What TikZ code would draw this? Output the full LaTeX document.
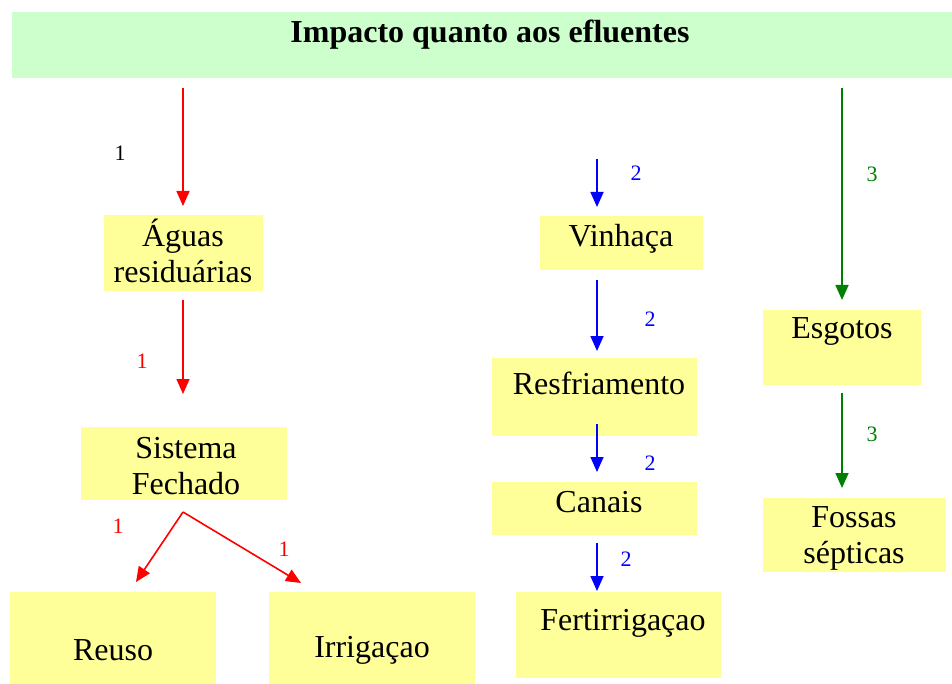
\documentclass[tikz,border=0pt]{standalone}
\usepackage{fontspec}
\setmainfont{Liberation Serif}
\usetikzlibrary{arrows.meta}
\definecolor{boxyellow}{HTML}{FFFF99}
\definecolor{titlegreen}{HTML}{CCFFCC}
\definecolor{arrred}{HTML}{FF0000}
\definecolor{arrblue}{HTML}{0000FF}
\definecolor{arrgreen}{HTML}{008000}
\tikzset{
  box/.style={fill=boxyellow, draw=none, inner sep=0pt, anchor=north west},
  lbl/.style={font=\fontsize{32}{36}\selectfont, align=center, inner sep=0pt, text=black},
  num/.style={font=\fontsize{22}{24}\selectfont, inner sep=0pt},
  flow/.style={line width=1.6pt, -{Triangle[length=15pt,width=13pt]}},
}
\begin{document}
\begin{tikzpicture}[x=1pt,y=-1pt]
\useasboundingbox (0,0) rectangle (952,684);
% title
\node[fill=titlegreen, inner sep=0pt, anchor=north west, minimum width=940pt, minimum height=66pt] (title) at (12,12) {};
\node[font=\fontsize{32}{36}\selectfont\bfseries, inner sep=0pt] (titletext) at (490,35) {Impacto quanto aos efluentes};
% boxes
\node[box, minimum width=159pt, minimum height=76pt] (aguas) at (104,215) {};
\node[lbl] (aguast) at (183,251) {Águas\\residuárias};
\node[box, minimum width=206pt, minimum height=73pt] (sist) at (81,427) {};
\node[lbl] (sistt) at (186,466) {Sistema\\Fechado};
\node[box, minimum width=206pt, minimum height=92pt] (reuso) at (10,592) {};
\node[lbl] (reusot) at (113,650) {Reuso};
\node[box, minimum width=206pt, minimum height=92pt] (irrig) at (269,592) {};
\node[lbl] (irrigt) at (372,650) {Irrigaçao};
\node[box, minimum width=163pt, minimum height=54pt] (vinh) at (540,216) {};
\node[lbl] (vinht) at (621,239) {Vinhaça};
\node[box, minimum width=205pt, minimum height=78pt] (resf) at (492,358) {};
\node[lbl] (resft) at (599,383) {Resfriamento};
\node[box, minimum width=205pt, minimum height=53pt] (canais) at (492,482) {};
\node[lbl] (canaist) at (599,502) {Canais};
\node[box, minimum width=205pt, minimum height=86pt] (fert) at (516,592) {};
\node[lbl] (fertt) at (623,623) {Fertirrigaçao};
\node[box, minimum width=158pt, minimum height=75pt] (esg) at (763,310) {};
\node[lbl] (esgt) at (842,331) {Esgotos};
\node[box, minimum width=183pt, minimum height=74pt] (fossas) at (763,498) {};
\node[lbl] (fossast) at (854,538) {Fossas\\sépticas};
% arrow endpoints
\coordinate (r1a) at (183,88);  \coordinate (r1b) at (183,206);
\coordinate (r2a) at (183,300); \coordinate (r2b) at (183,394);
\coordinate (apex) at (183,512);
\coordinate (r3b) at (136,582); \coordinate (r4b) at (301,583);
\coordinate (b1a) at (597,159); \coordinate (b1b) at (597,207);
\coordinate (b2a) at (597,280); \coordinate (b2b) at (597,351);
\coordinate (b3a) at (597,424); \coordinate (b3b) at (597,472);
\coordinate (b4a) at (597,543); \coordinate (b4b) at (597,591);
\coordinate (g1a) at (842,88);  \coordinate (g1b) at (842,300);
\coordinate (g2a) at (842,393); \coordinate (g2b) at (842,488);
% red arrows
\draw[flow, arrred] (r1a) -- (r1b);
\draw[flow, arrred] (r2a) -- (r2b);
\draw[flow, arrred] (apex) -- (r3b);
\draw[flow, arrred] (apex) -- (r4b);
\node[num, text=black] (n1) at (120,153) {1};
\node[num, text=arrred] (n2) at (142,361) {1};
\node[num, text=arrred] (n3) at (118,526) {1};
\node[num, text=arrred] (n4) at (284,549) {1};
% blue arrows
\draw[flow, arrblue] (b1a) -- (b1b);
\draw[flow, arrblue] (b2a) -- (b2b);
\draw[flow, arrblue] (b3a) -- (b3b);
\draw[flow, arrblue] (b4a) -- (b4b);
\node[num, text=arrblue] (n5) at (636,173) {2};
\node[num, text=arrblue] (n6) at (650,319) {2};
\node[num, text=arrblue] (n7) at (650,463) {2};
\node[num, text=arrblue] (n8) at (626,559) {2};
% green arrows
\draw[flow, arrgreen] (g1a) -- (g1b);
\draw[flow, arrgreen] (g2a) -- (g2b);
\node[num, text=arrgreen] (n9) at (872,174) {3};
\node[num, text=arrgreen] (n10) at (872,434) {3};
\end{tikzpicture}
\end{document}
